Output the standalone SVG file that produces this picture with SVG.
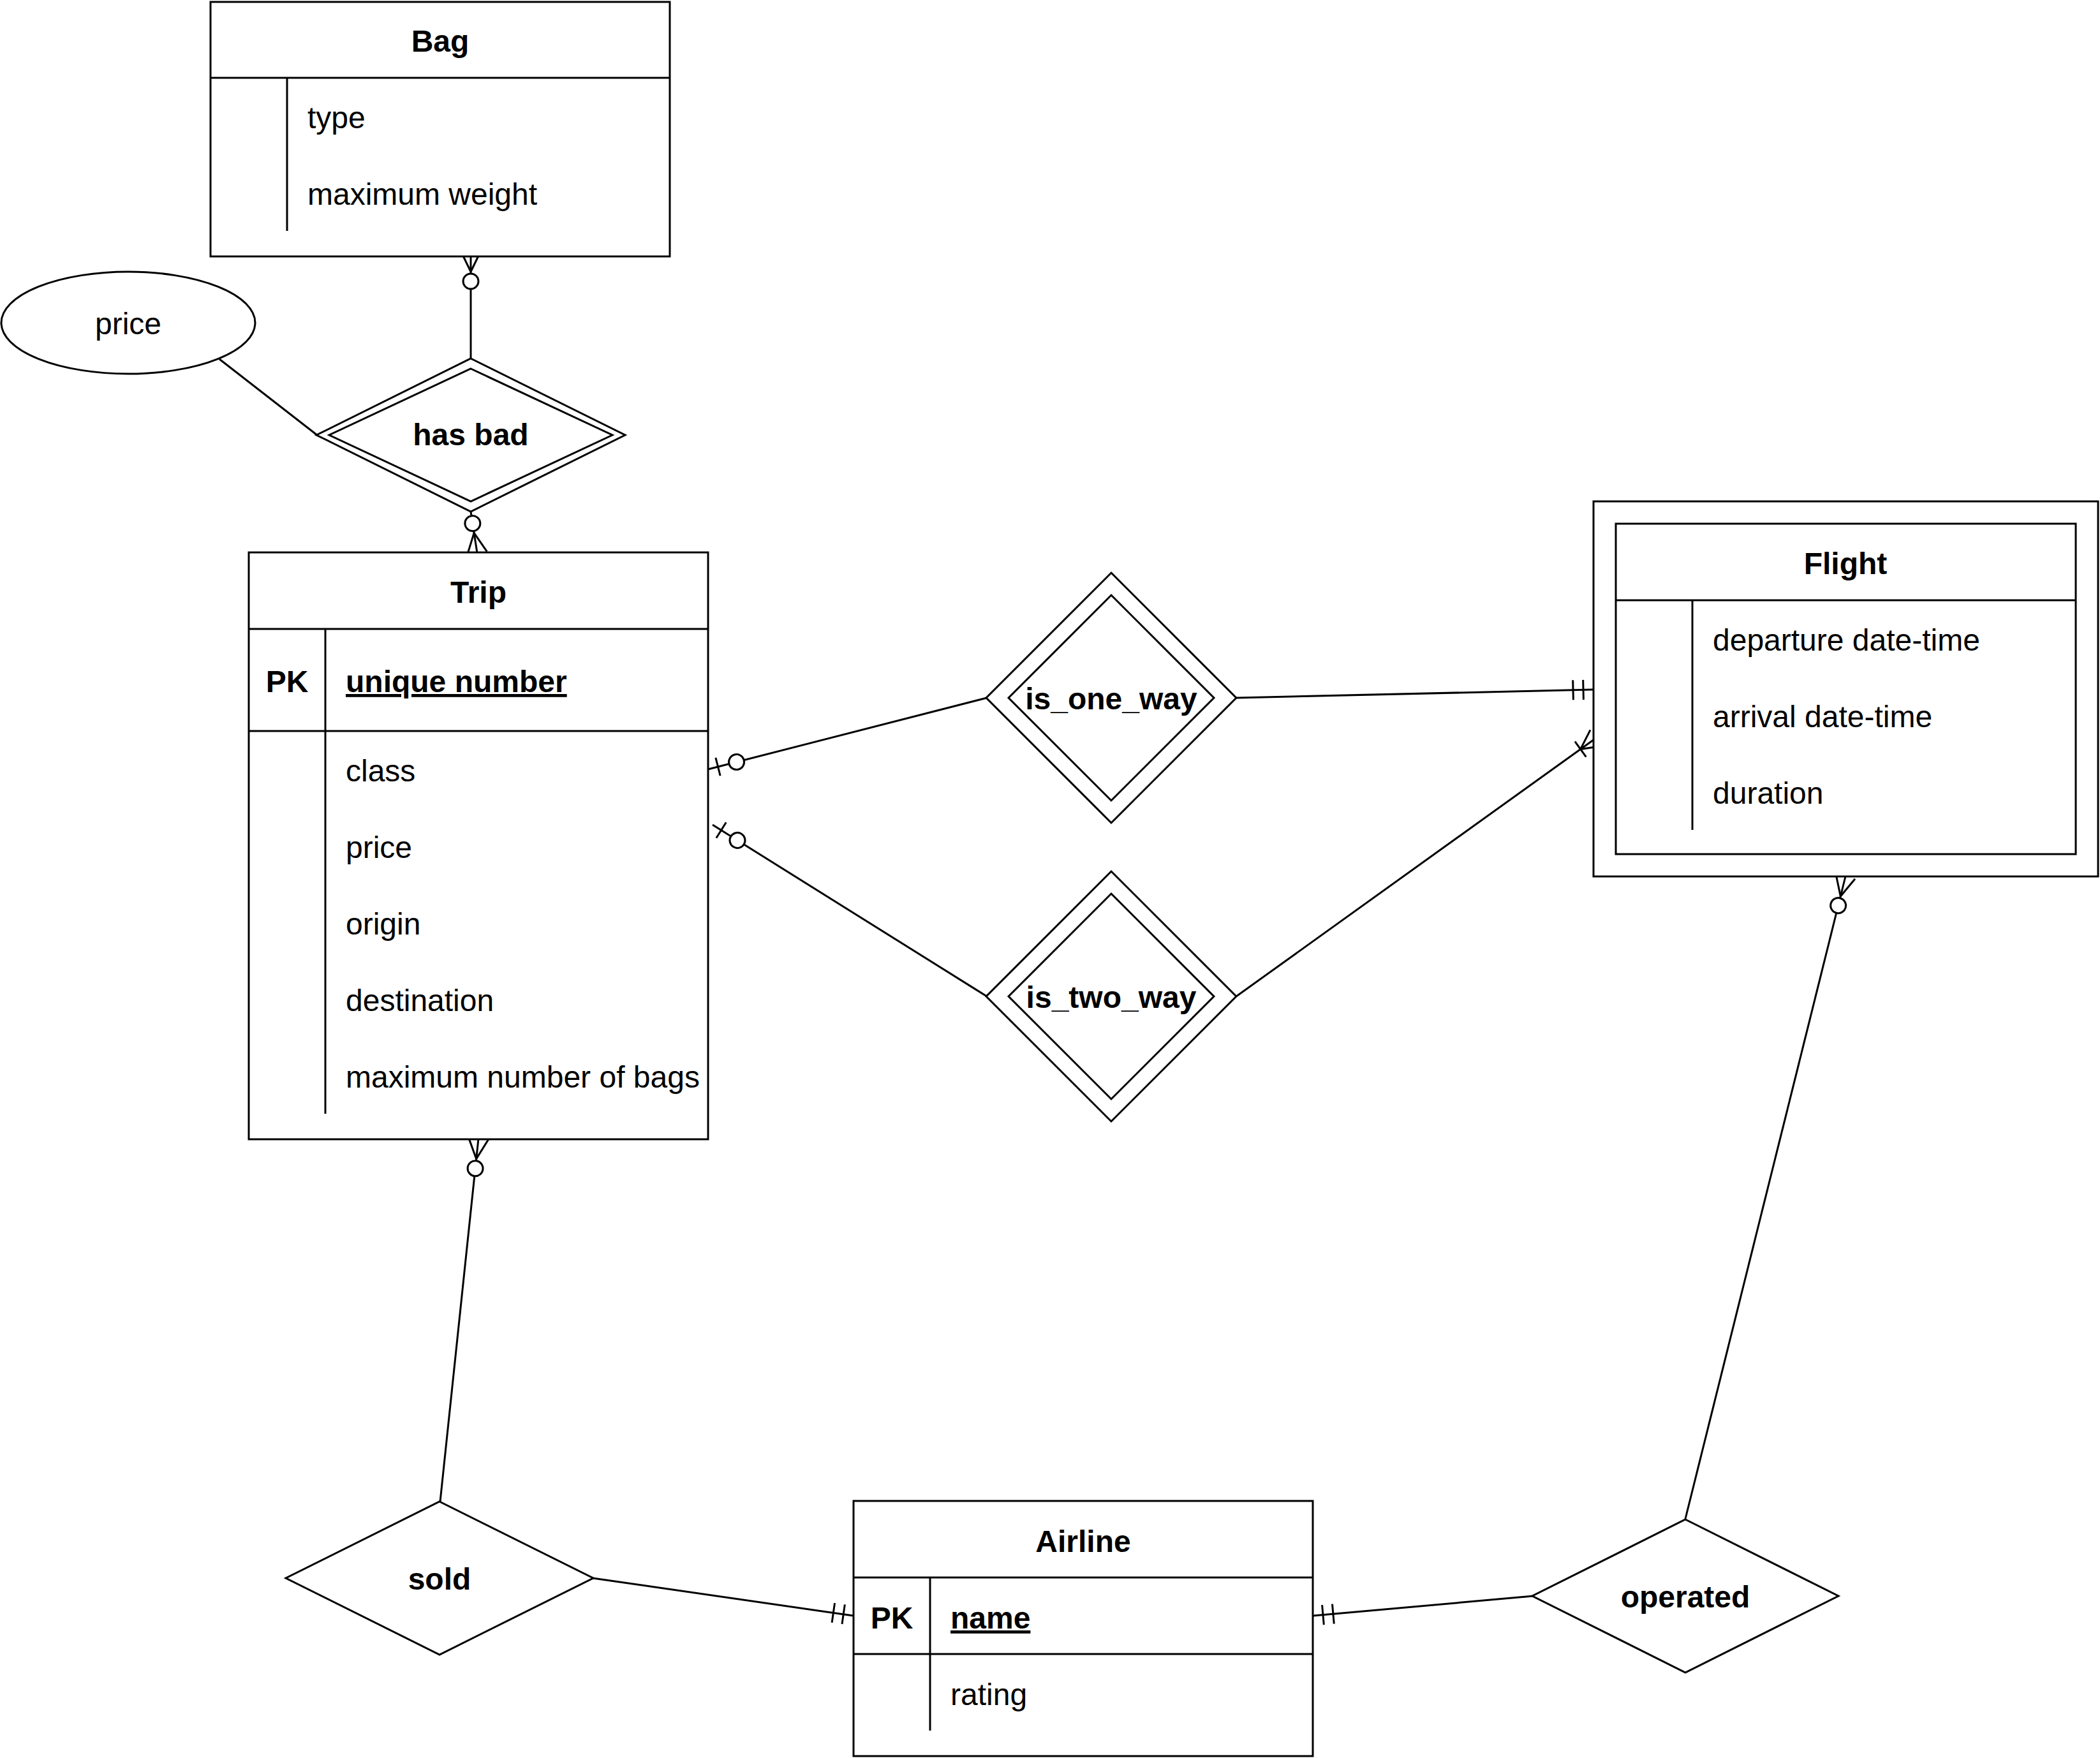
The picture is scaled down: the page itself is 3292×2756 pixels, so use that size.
<svg xmlns="http://www.w3.org/2000/svg" width="3292" height="2756" viewBox="0 0 3292 2756">
<style>
.s{fill:#fff;stroke:#000;stroke-width:3}
.l{fill:none;stroke:#000;stroke-width:3}
.t{font-family:"Liberation Sans",Arial,sans-serif;font-size:48px;fill:#000}
.b{font-weight:bold}
.c{text-anchor:middle}
.u{text-decoration:underline}
.m{fill:none;stroke:#000;stroke-width:3}
.mc{fill:#fff;stroke:#000;stroke-width:3}
</style>
<defs>
<marker id="mandOne" markerUnits="userSpaceOnUse" orient="auto" refX="0" refY="0" markerWidth="80" markerHeight="80" overflow="visible">
<path class="m" d="M-16,-15.5V15.5M-32,-15.5V15.5"/>
</marker>
<marker id="zeroToOne" markerUnits="userSpaceOnUse" orient="auto" refX="0" refY="0" markerWidth="80" markerHeight="80" overflow="visible">
<path class="m" d="M-16,-14.5V14.5"/>
<circle class="mc" cx="-46" cy="0" r="12"/>
</marker>
<marker id="zeroToMany" markerUnits="userSpaceOnUse" orient="auto" refX="0" refY="0" markerWidth="80" markerHeight="80" overflow="visible">
<path class="m" d="M0,-15.5L-32,0L0,15.5"/>
<circle class="mc" cx="-47" cy="0" r="12"/>
</marker>
<marker id="oneToMany" markerUnits="userSpaceOnUse" orient="auto" refX="0" refY="0" markerWidth="80" markerHeight="80" overflow="visible">
<path class="m" d="M0,-15.5L-30,0L0,15.5M-30,-15V15"/>
</marker>
</defs>
<rect x="0" y="0" width="3292" height="2756" fill="#fff"/>

<g id="connectors">
<path class="l" d="M344,563L497,682"/>
<path class="l" d="M738,562L738,394" marker-end="url(#zeroToMany)"/>
<path class="l" d="M738,802L748,867" marker-end="url(#zeroToMany)"/>
<path class="l" d="M1547,1094L1110,1206" marker-end="url(#zeroToOne)"/>
<path class="l" d="M1547,1562L1117,1293" marker-end="url(#zeroToOne)"/>
<path class="l" d="M1938,1094L2498,1081" marker-end="url(#mandOne)"/>
<path class="l" d="M1938,1562L2502,1157" marker-end="url(#oneToMany)"/>
<path class="l" d="M690,2354L750,1785" marker-end="url(#zeroToMany)"/>
<path class="l" d="M929,2474L1338,2533" marker-end="url(#mandOne)"/>
<path class="l" d="M2404,2502L2058,2533" marker-end="url(#mandOne)"/>
<path class="l" d="M2642,2381L2893,1374" marker-end="url(#zeroToMany)"/>
</g>

<g id="bag">
<rect class="s" x="330" y="3" width="720" height="399"/>
<path class="l" d="M330,122H1050M450,122V362"/>
<text class="t b c" x="690" y="81">Bag</text>
<text class="t" x="482" y="201">type</text>
<text class="t" x="482" y="321">maximum weight</text>
</g>

<g id="price">
<ellipse class="s" cx="201" cy="506" rx="199" ry="80"/>
<text class="t c" x="201" y="524">price</text>
</g>

<g id="has_bad">
<path class="s" d="M738,562L980,682L738,802L496,682Z"/>
<path class="s" d="M738,578L960,682L738,786L516,682Z"/>
<text class="t b c" x="738" y="698">has bad</text>
</g>

<g id="trip">
<rect class="s" x="390" y="866" width="720" height="920"/>
<path class="l" d="M390,986H1110M390,1146H1110M510,986V1746"/>
<text class="t b c" x="750" y="945">Trip</text>
<text class="t b c" x="450" y="1085">PK</text>
<text class="t b u" x="542" y="1085">unique number</text>
<text class="t" x="542" y="1225">class</text>
<text class="t" x="542" y="1345">price</text>
<text class="t" x="542" y="1465">origin</text>
<text class="t" x="542" y="1585">destination</text>
<text class="t" x="542" y="1705">maximum number of bags</text>
</g>

<g id="is_one_way">
<path class="s" d="M1742,898L1938,1094L1742,1290L1546,1094Z"/>
<path class="s" d="M1742,933L1903,1094L1742,1255L1581,1094Z"/>
<text class="t b c" x="1742" y="1112">is_one_way</text>
</g>

<g id="is_two_way">
<path class="s" d="M1742,1366L1938,1562L1742,1758L1546,1562Z"/>
<path class="s" d="M1742,1401L1903,1562L1742,1723L1581,1562Z"/>
<text class="t b c" x="1742" y="1580">is_two_way</text>
</g>

<g id="flight">
<rect class="s" x="2498" y="786" width="791" height="588"/>
<rect class="s" x="2533" y="821" width="721" height="518"/>
<path class="l" d="M2533,941H3254M2653,941V1301"/>
<text class="t b c" x="2893" y="900">Flight</text>
<text class="t" x="2685" y="1020">departure date-time</text>
<text class="t" x="2685" y="1140">arrival date-time</text>
<text class="t" x="2685" y="1260">duration</text>
</g>

<g id="sold">
<path class="s" d="M689,2354L930,2474L689,2594L448,2474Z"/>
<text class="t b c" x="689" y="2492">sold</text>
</g>

<g id="airline">
<rect class="s" x="1338" y="2353" width="720" height="400"/>
<path class="l" d="M1338,2473H2058M1338,2593H2058M1458,2473V2713"/>
<text class="t b c" x="1698" y="2433">Airline</text>
<text class="t b c" x="1398" y="2553">PK</text>
<text class="t b u" x="1490" y="2553">name</text>
<text class="t" x="1490" y="2673">rating</text>
</g>

<g id="operated">
<path class="s" d="M2642,2382L2882,2502L2642,2622L2402,2502Z"/>
<text class="t b c" x="2642" y="2520">operated</text>
</g>
</svg>
